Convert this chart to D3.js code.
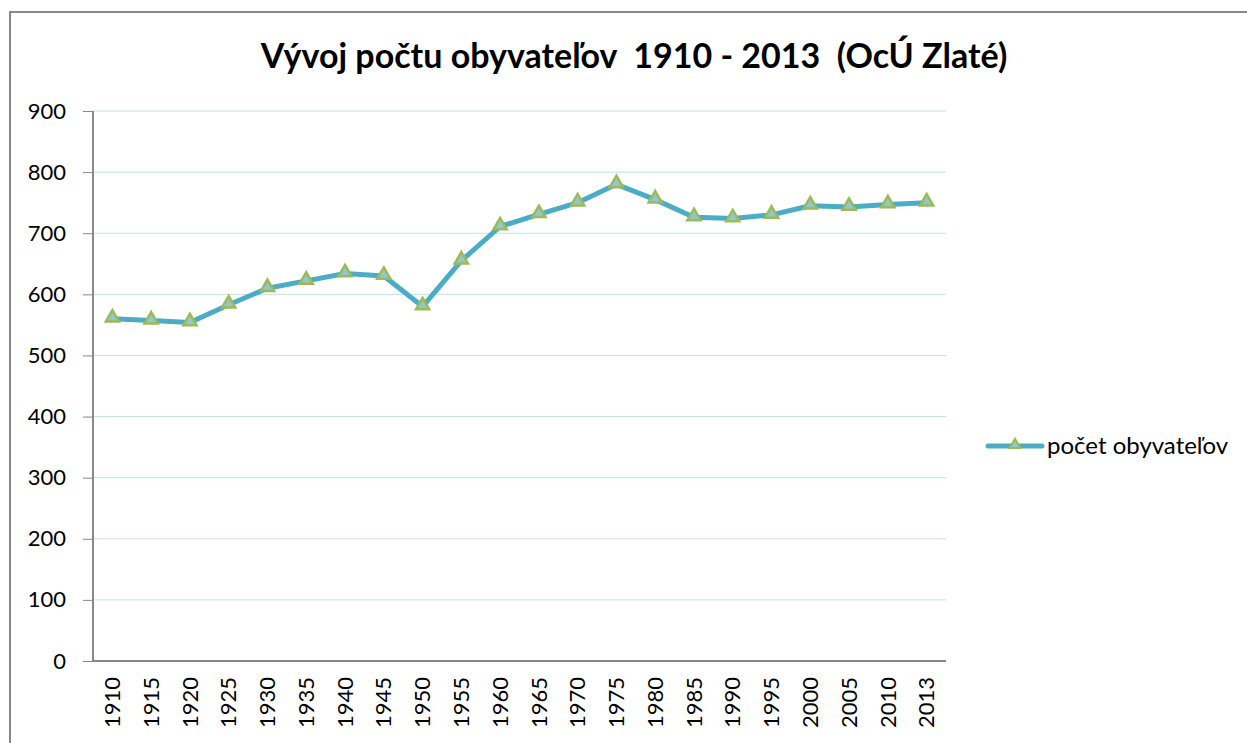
<!DOCTYPE html>
<html>
<head>
<meta charset="utf-8">
<script src="https://cdn.jsdelivr.net/npm/d3@7"></script>
<style>
  body { margin: 0; background: #fff; }
  svg { font-family: Lato, "Open Sans", sans-serif; }
</style>
</head>
<body>
<div class="chartwrap"></div>
<script>
var width = 1247, height = 743;

// data
var years = ["1910", "1915", "1920", "1925", "1930", "1935", "1940", "1945", "1950", "1955", "1960",
             "1965", "1970", "1975", "1980", "1985", "1990", "1995", "2000", "2005", "2010", "2013"];
var population = [560, 557, 554, 583, 610, 622, 634, 630, 580, 655, 711,
                  731, 750, 780, 755, 726, 724, 730, 745, 743, 747, 750];
var yTicks = [0, 100, 200, 300, 400, 500, 600, 700, 800, 900];
var titleText = "Vývoj počtu obyvateľov  1910 - 2013  (OcÚ Zlaté)";
var seriesName = "počet obyvateľov";

var margin = {top: 111, left: 93, bottom: 82, right: 301};
var cw = width - margin.left - margin.right,
    ch = height - margin.top - margin.bottom;

var lineColor = "#4bacc6",
    markerStroke = "#9bbb59",
    markerFill = "#93c6d3",
    gridColor = "#c3e0e8",
    axisColor = "#888888";

var svg = d3.select(".chartwrap").append("svg")
    .attr("width", width)
    .attr("height", height);

// chart frame
svg.append("rect")
    .attr("x", 10)
    .attr("y", 12)
    .attr("width", 1245)
    .attr("height", 760)
    .attr("fill", "none")
    .attr("stroke", axisColor)
    .attr("stroke-width", 2);

svg.append("text")
    .attr("x", 634)
    .attr("y", 68)
    .attr("text-anchor", "middle")
    .style("font-size", "34px")
    .style("font-weight", "bold")
    .attr("fill", "#000")
    .style("white-space", "pre")
    .text(titleText);

var g = svg.append("g")
    .attr("transform", "translate(" + margin.left + "," + margin.top + ")");

var x = d3.scaleBand()
    .domain(years)
    .range([0, cw]);

var y = d3.scaleLinear()
    .domain([0, 900])
    .range([ch, 0]);

// gridlines
g.append("g")
    .selectAll("line")
    .data(yTicks.slice(1))
    .enter().append("line")
    .attr("x1", 0)
    .attr("x2", cw)
    .attr("y1", function(d) { return y(d); })
    .attr("y2", function(d) { return y(d); })
    .attr("stroke", gridColor)
    .attr("stroke-width", 1);

var yAxis = d3.axisLeft(y)
    .tickValues(yTicks)
    .tickSize(10)
    .tickPadding(17);

var xAxis = d3.axisBottom(x)
    .tickSize(0)
    .tickPadding(0);

function customYAxis(a) {
    a.call(yAxis);
    a.select(".domain").attr("stroke", axisColor).attr("stroke-width", 2)
        .attr("d", "M0,0V" + ch);
    a.selectAll(".tick line").attr("stroke", axisColor);
    a.selectAll(".tick text")
        .attr("fill", "#000")
        .style("font-size", "22px")
        .style("font-family", "Lato, sans-serif");
}

function customXAxis(a) {
    a.call(xAxis);
    a.select(".domain").attr("stroke", axisColor).attr("stroke-width", 2)
        .attr("d", "M0,0H" + cw);
    a.selectAll(".tick text")
        .attr("fill", "#000")
        .style("font-size", "22px")
        .style("font-family", "Lato, sans-serif")
        .attr("text-anchor", "end")
        .attr("transform", "rotate(-90)")
        .attr("x", -16)
        .attr("y", 0)
        .attr("dy", "0.35em");
}

g.append("g")
    .attr("class", "x axis")
    .attr("transform", "translate(0," + ch + ")")
    .call(customXAxis);

g.append("g")
    .attr("class", "y axis")
    .call(customYAxis);

var line = d3.line()
    .x(function(d, i) { return x(years[i]) + x.bandwidth() / 2; })
    .y(function(d) { return y(d); });

g.append("path")
    .datum(population)
    .attr("fill", "none")
    .attr("stroke", lineColor)
    .attr("stroke-width", 5)
    .attr("stroke-linejoin", "round")
    .attr("stroke-linecap", "round")
    .attr("d", line);

var tri = d3.symbol().type(d3.symbolTriangle).size(75);

g.selectAll(".marker")
    .data(population)
    .enter().append("path")
    .attr("class", "marker")
    .attr("transform", function(d, i) {
        return "translate(" + (x(years[i]) + x.bandwidth() / 2) + "," + (y(d) - 1) + ")"; })
    .attr("d", tri)
    .attr("fill", markerFill)
    .attr("stroke", markerStroke)
    .attr("stroke-width", 2.5);

// legend
var legend = svg.append("g")
    .attr("transform", "translate(988,446)");

legend.append("line")
    .attr("x1", 0)
    .attr("x2", 54)
    .attr("stroke", lineColor)
    .attr("stroke-width", 5)
    .attr("stroke-linecap", "round");

legend.append("path")
    .attr("transform", "translate(27,-1)")
    .attr("d", d3.symbol().type(d3.symbolTriangle).size(50))
    .attr("fill", markerFill)
    .attr("stroke", markerStroke)
    .attr("stroke-width", 2);

legend.append("text")
    .attr("x", 59)
    .attr("y", 0)
    .attr("dy", "0.35em")
    .attr("fill", "#000")
    .style("font-size", "24px")
    .text(seriesName);
</script>
</body>
</html>
